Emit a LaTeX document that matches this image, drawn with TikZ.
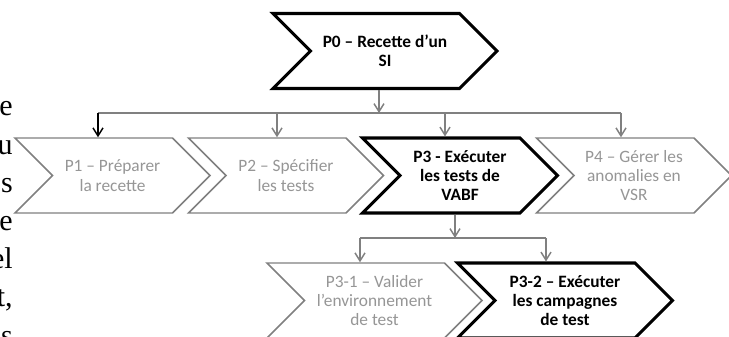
\documentclass[tikz,border=0pt]{standalone}
\usepackage{fontspec}
\setmainfont{Carlito}
\newfontfamily\serifletters{Liberation Serif}
\usetikzlibrary{shapes.symbols,arrows.meta}
\definecolor{boxgray}{HTML}{808080}
\definecolor{txtgray}{HTML}{969696}
\begin{document}
\begin{tikzpicture}[x=0.75pt,y=-0.75pt,
  chev/.style={signal, signal from=west, signal to=east, signal pointer angle=90,
    fill=white, inner sep=0pt, align=center, minimum height=56.25pt,
    font=\fontsize{13pt}{14.5pt}\selectfont},
  light/.style={chev, draw=boxgray, line width=1.1pt, text=txtgray},
  dark/.style={chev, draw=black, line width=2.3pt, text=black,
    font=\fontsize{13pt}{14.5pt}\selectfont\bfseries},
  conn/.style={draw=boxgray, line width=1.1pt},
  arr/.style={conn, -{Straight Barb[length=6pt,width=7.5pt]}},
  letter/.style={anchor=base east, inner sep=0pt,
    font=\serifletters\fontsize{22.5pt}{27pt}\selectfont}]
\useasboundingbox (0,0) rectangle (729,336);

% cut-off body text on the left
\node[letter] (l1) at (13,115) {e};
\node[letter] (l2) at (13,154) {u};
\node[letter] (l3) at (13,192) {s};
\node[letter] (l4) at (13,230) {e};
\node[letter] (l5) at (13,268) {el};
\node[letter] (l6) at (13,306) {t,};
\node[letter] (l7) at (13,345) {s};

% chevrons
\node[dark, minimum width=168pt] (p0) at (385,51) {P0 – Recette d’un\\SI};
\node[light, minimum width=146.25pt] (p1) at (112.5,175.5) {P1 – Préparer\\la recette};
\node[light, minimum width=146.25pt] (p2) at (286,175.5) {P2 – Spécifier\\les tests};
\node[dark, minimum width=146.25pt] (p3) at (460,175.5) {P3 - Exécuter\\les tests de\\VABF};
\node[light, minimum width=146.25pt] (p4) at (634,175.5) {P4 – Gérer les\\anomalies en\\VSR};
\node[light, minimum width=161.25pt] (p31) at (374.5,300.5) {P3-1 – Valider\\l’environnement\\de test};
\node[dark, minimum width=161.25pt] (p32) at (565,300.5) {P3-2 – Exécuter\\les campagnes\\de test};

% connector points
\coordinate (b0) at (379,113);
\coordinate (t1) at (98,113);
\coordinate (t2) at (277,113);
\coordinate (t3) at (445,113);
\coordinate (t4) at (621,113);
\coordinate (c0) at (455,238);
\coordinate (u1) at (360,238);
\coordinate (u2) at (546,238);

\draw[conn] (t1) -- (t4);
\draw[arr] (p0.south -| b0) -- (b0);
\draw[arr, draw=black] (t1) -- (t1 |- p1.north);
\draw[arr] (t2) -- (t2 |- p2.north);
\draw[arr] (t3) -- (t3 |- p3.north);
\draw[arr] (t4) -- (t4 |- p4.north);

\draw[conn] (u1) -- (u2);
\draw[arr] (p3.south -| c0) -- (c0);
\draw[arr] (u1) -- (u1 |- p31.north);
\draw[arr] (u2) -- (u2 |- p32.north);
\end{tikzpicture}
\end{document}
